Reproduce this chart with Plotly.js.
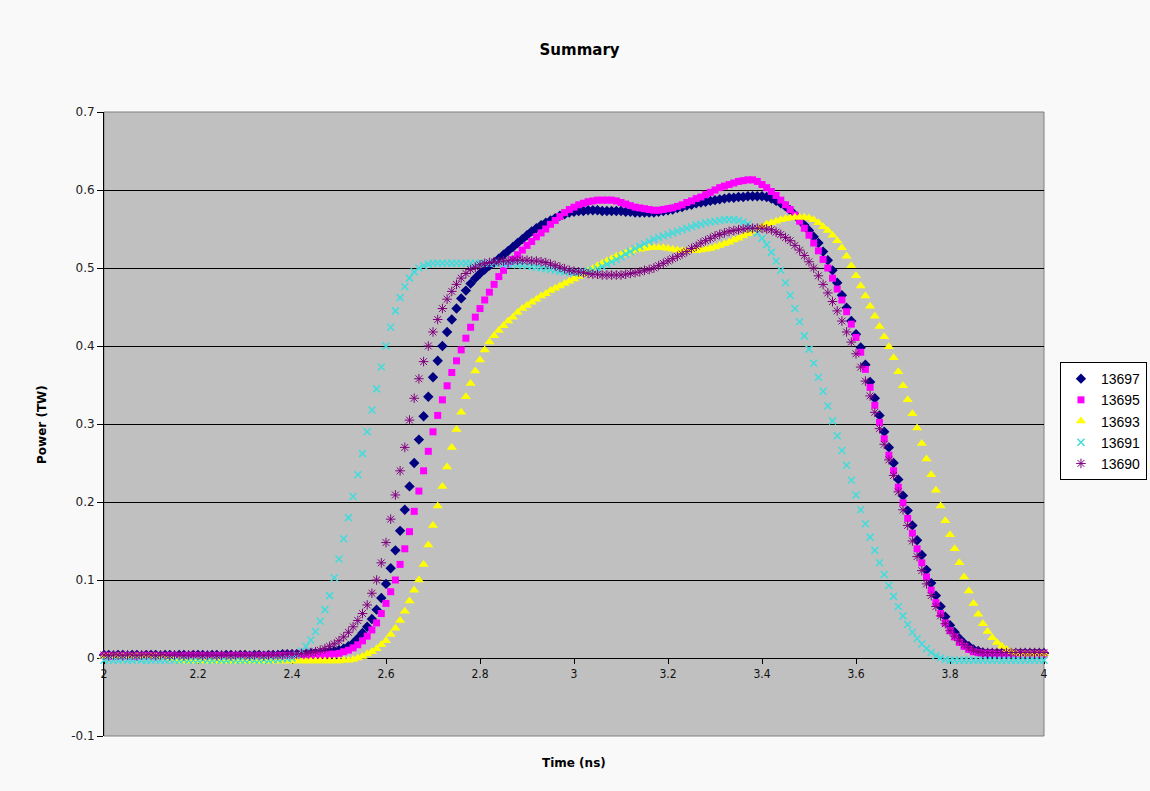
<!DOCTYPE html>
<html>
<head>
<meta charset="utf-8">
<script src="https://cdn.plot.ly/plotly-3.0.1.min.js"></script>
<style>
html,body{margin:0;padding:0;background:#F9F9F9;}
#chart{width:1150px;height:791px;}
</style>
</head>
<body>
<div id="chart"></div>
<script>
// Time (ns), sampled every 0.01 ns
var times = [
2.00,2.01,2.02,2.03,2.04,2.05,2.06,2.07,2.08,2.09,
2.10,2.11,2.12,2.13,2.14,2.15,2.16,2.17,2.18,2.19,
2.20,2.21,2.22,2.23,2.24,2.25,2.26,2.27,2.28,2.29,
2.30,2.31,2.32,2.33,2.34,2.35,2.36,2.37,2.38,2.39,
2.40,2.41,2.42,2.43,2.44,2.45,2.46,2.47,2.48,2.49,
2.50,2.51,2.52,2.53,2.54,2.55,2.56,2.57,2.58,2.59,
2.60,2.61,2.62,2.63,2.64,2.65,2.66,2.67,2.68,2.69,
2.70,2.71,2.72,2.73,2.74,2.75,2.76,2.77,2.78,2.79,
2.80,2.81,2.82,2.83,2.84,2.85,2.86,2.87,2.88,2.89,
2.90,2.91,2.92,2.93,2.94,2.95,2.96,2.97,2.98,2.99,
3.00,3.01,3.02,3.03,3.04,3.05,3.06,3.07,3.08,3.09,
3.10,3.11,3.12,3.13,3.14,3.15,3.16,3.17,3.18,3.19,
3.20,3.21,3.22,3.23,3.24,3.25,3.26,3.27,3.28,3.29,
3.30,3.31,3.32,3.33,3.34,3.35,3.36,3.37,3.38,3.39,
3.40,3.41,3.42,3.43,3.44,3.45,3.46,3.47,3.48,3.49,
3.50,3.51,3.52,3.53,3.54,3.55,3.56,3.57,3.58,3.59,
3.60,3.61,3.62,3.63,3.64,3.65,3.66,3.67,3.68,3.69,
3.70,3.71,3.72,3.73,3.74,3.75,3.76,3.77,3.78,3.79,
3.80,3.81,3.82,3.83,3.84,3.85,3.86,3.87,3.88,3.89,
3.90,3.91,3.92,3.93,3.94,3.95,3.96,3.97,3.98,3.99,
4.00];

var seriesNames = ["13697","13695","13693","13691","13690"];

var power13697 = [
0.004,0.004,0.003,0.004,0.004,0.003,0.004,0.004,0.003,0.004,
0.004,0.004,0.003,0.004,0.004,0.003,0.004,0.004,0.003,0.004,
0.004,0.004,0.003,0.004,0.004,0.003,0.004,0.004,0.003,0.004,
0.004,0.003,0.004,0.004,0.003,0.004,0.004,0.004,0.005,0.005,
0.005,0.005,0.005,0.005,0.006,0.006,0.006,0.007,0.008,0.009,
0.010,0.012,0.015,0.019,0.025,0.032,0.040,0.050,0.062,0.077,
0.095,0.115,0.138,0.163,0.190,0.220,0.250,0.280,0.310,0.335,
0.360,0.381,0.400,0.418,0.434,0.448,0.461,0.471,0.480,0.487,
0.493,0.498,0.503,0.507,0.512,0.517,0.522,0.527,0.532,0.537,
0.542,0.547,0.551,0.555,0.558,0.561,0.564,0.567,0.569,0.571,
0.572,0.573,0.573,0.574,0.574,0.574,0.573,0.573,0.573,0.573,
0.573,0.572,0.572,0.571,0.571,0.571,0.571,0.571,0.572,0.573,
0.574,0.575,0.577,0.578,0.580,0.581,0.583,0.584,0.585,0.586,
0.587,0.588,0.589,0.590,0.590,0.591,0.591,0.592,0.592,0.592,
0.592,0.591,0.589,0.586,0.583,0.579,0.574,0.568,0.562,0.555,
0.548,0.540,0.532,0.521,0.510,0.497,0.481,0.465,0.449,0.432,
0.415,0.398,0.376,0.354,0.333,0.311,0.290,0.270,0.250,0.229,
0.208,0.189,0.170,0.151,0.132,0.113,0.096,0.080,0.066,0.053,
0.042,0.033,0.025,0.019,0.015,0.011,0.009,0.007,0.006,0.006,
0.006,0.006,0.006,0.006,0.006,0.006,0.006,0.006,0.006,0.006,
0.006];

var power13695 = [
0.003,0.003,0.002,0.003,0.003,0.003,0.002,0.003,0.003,0.003,
0.003,0.003,0.002,0.003,0.003,0.003,0.002,0.003,0.003,0.003,
0.003,0.003,0.002,0.003,0.003,0.003,0.002,0.003,0.003,0.003,
0.003,0.003,0.002,0.003,0.003,0.003,0.002,0.003,0.003,0.003,
0.003,0.003,0.003,0.003,0.004,0.004,0.004,0.004,0.005,0.005,
0.006,0.008,0.010,0.013,0.017,0.022,0.028,0.036,0.045,0.057,
0.070,0.085,0.100,0.120,0.140,0.162,0.188,0.214,0.240,0.265,
0.290,0.311,0.331,0.349,0.366,0.381,0.395,0.410,0.424,0.437,
0.448,0.459,0.469,0.479,0.489,0.497,0.505,0.511,0.517,0.523,
0.529,0.534,0.540,0.545,0.550,0.556,0.561,0.566,0.571,0.575,
0.578,0.581,0.583,0.585,0.586,0.587,0.587,0.587,0.587,0.586,
0.584,0.582,0.580,0.578,0.577,0.576,0.575,0.574,0.574,0.575,
0.576,0.577,0.579,0.581,0.584,0.586,0.589,0.591,0.594,0.597,
0.600,0.603,0.605,0.607,0.609,0.611,0.612,0.613,0.613,0.611,
0.607,0.603,0.598,0.593,0.587,0.581,0.575,0.568,0.560,0.551,
0.542,0.532,0.522,0.511,0.500,0.487,0.473,0.459,0.444,0.428,
0.411,0.392,0.370,0.347,0.324,0.302,0.281,0.260,0.240,0.219,
0.199,0.179,0.160,0.140,0.122,0.104,0.087,0.071,0.057,0.045,
0.035,0.027,0.020,0.015,0.011,0.008,0.007,0.006,0.006,0.006,
0.005,0.005,0.005,0.005,0.005,0.005,0.005,0.005,0.005,0.005,
0.005];

var power13693 = [
0.002,0.002,0.002,0.002,0.002,0.002,0.002,0.002,0.002,0.002,
0.002,0.002,0.001,0.001,0.000,-0.002,-0.003,-0.004,-0.004,-0.004,
-0.004,-0.004,-0.004,-0.004,-0.004,-0.004,-0.004,-0.004,-0.004,-0.004,
-0.004,-0.004,-0.004,-0.004,-0.004,-0.004,-0.004,-0.004,-0.004,-0.004,
-0.004,-0.004,-0.004,-0.004,-0.004,-0.004,-0.004,-0.004,-0.004,-0.004,
-0.004,-0.003,-0.003,-0.002,0.000,0.002,0.005,0.008,0.012,0.017,
0.022,0.030,0.038,0.048,0.060,0.073,0.087,0.100,0.120,0.145,
0.170,0.195,0.220,0.245,0.270,0.293,0.315,0.335,0.352,0.368,
0.382,0.395,0.405,0.413,0.420,0.426,0.432,0.437,0.443,0.448,
0.452,0.456,0.460,0.464,0.467,0.471,0.474,0.477,0.480,0.483,
0.486,0.489,0.492,0.496,0.499,0.503,0.506,0.509,0.512,0.515,
0.517,0.519,0.521,0.523,0.524,0.525,0.526,0.526,0.526,0.526,
0.525,0.524,0.523,0.522,0.522,0.522,0.522,0.523,0.524,0.525,
0.527,0.529,0.531,0.533,0.536,0.538,0.541,0.544,0.547,0.550,
0.553,0.556,0.558,0.560,0.562,0.563,0.564,0.565,0.565,0.565,
0.564,0.562,0.558,0.553,0.548,0.542,0.535,0.526,0.515,0.503,
0.490,0.477,0.464,0.451,0.438,0.425,0.412,0.399,0.385,0.367,
0.349,0.331,0.313,0.295,0.275,0.255,0.235,0.215,0.195,0.176,
0.158,0.140,0.122,0.104,0.086,0.070,0.056,0.044,0.034,0.026,
0.020,0.015,0.011,0.008,0.006,0.005,0.005,0.005,0.005,0.005,
0.005];

var power13691 = [
-0.003,-0.002,-0.003,-0.003,-0.002,-0.003,-0.003,-0.002,-0.003,-0.003,
-0.003,-0.002,-0.003,-0.003,-0.002,-0.003,-0.003,-0.002,-0.003,-0.003,
-0.003,-0.002,-0.003,-0.003,-0.002,-0.003,-0.003,-0.002,-0.003,-0.003,
-0.003,-0.002,-0.003,-0.003,-0.002,-0.003,-0.002,-0.002,-0.001,-0.001,
0.000,0.004,0.009,0.015,0.023,0.034,0.047,0.062,0.080,0.103,
0.127,0.153,0.180,0.207,0.235,0.262,0.290,0.318,0.345,0.373,
0.400,0.424,0.445,0.462,0.476,0.487,0.495,0.500,0.503,0.505,
0.506,0.506,0.506,0.506,0.506,0.506,0.506,0.506,0.506,0.506,
0.506,0.506,0.506,0.506,0.506,0.505,0.505,0.505,0.504,0.504,
0.503,0.502,0.501,0.500,0.499,0.498,0.497,0.496,0.495,0.495,
0.494,0.494,0.495,0.496,0.497,0.499,0.502,0.505,0.508,0.511,
0.514,0.518,0.521,0.525,0.528,0.531,0.534,0.537,0.539,0.541,
0.543,0.545,0.547,0.549,0.551,0.553,0.555,0.556,0.558,0.559,
0.560,0.561,0.562,0.562,0.562,0.561,0.559,0.556,0.551,0.545,
0.538,0.530,0.520,0.509,0.497,0.481,0.465,0.448,0.431,0.413,
0.396,0.378,0.360,0.342,0.323,0.304,0.285,0.266,0.247,0.228,
0.209,0.190,0.172,0.155,0.138,0.122,0.107,0.093,0.079,0.066,
0.054,0.043,0.033,0.025,0.018,0.012,0.007,0.003,0.000,-0.002,
-0.003,-0.003,-0.003,-0.003,-0.003,-0.003,-0.003,-0.003,-0.003,-0.003,
-0.003,-0.003,-0.003,-0.003,-0.003,-0.003,-0.003,-0.003,-0.003,-0.003,
-0.003];

var power13690 = [
0.004,0.003,0.004,0.004,0.003,0.004,0.004,0.003,0.004,0.004,
0.004,0.003,0.004,0.004,0.003,0.004,0.004,0.003,0.004,0.004,
0.004,0.003,0.004,0.004,0.003,0.004,0.004,0.003,0.004,0.004,
0.004,0.003,0.004,0.004,0.003,0.004,0.004,0.004,0.004,0.005,
0.005,0.005,0.006,0.006,0.007,0.008,0.010,0.012,0.015,0.018,
0.022,0.027,0.033,0.040,0.048,0.057,0.068,0.083,0.100,0.122,
0.148,0.178,0.209,0.240,0.270,0.305,0.333,0.358,0.380,0.400,
0.418,0.434,0.448,0.460,0.470,0.479,0.487,0.493,0.498,0.501,
0.504,0.506,0.507,0.508,0.508,0.509,0.509,0.510,0.510,0.510,
0.510,0.509,0.509,0.508,0.507,0.505,0.503,0.501,0.499,0.497,
0.496,0.495,0.494,0.493,0.492,0.492,0.491,0.491,0.491,0.491,
0.491,0.492,0.493,0.494,0.495,0.497,0.498,0.500,0.503,0.506,
0.509,0.512,0.515,0.518,0.521,0.525,0.528,0.532,0.535,0.538,
0.541,0.543,0.545,0.547,0.548,0.549,0.550,0.551,0.551,0.551,
0.551,0.550,0.549,0.546,0.543,0.539,0.535,0.529,0.523,0.516,
0.508,0.500,0.490,0.479,0.468,0.457,0.445,0.432,0.418,0.405,
0.390,0.373,0.355,0.336,0.315,0.294,0.274,0.254,0.234,0.213,
0.190,0.170,0.150,0.130,0.112,0.095,0.080,0.066,0.054,0.044,
0.035,0.028,0.022,0.017,0.013,0.010,0.008,0.007,0.007,0.007,
0.007,0.007,0.007,0.007,0.007,0.007,0.007,0.007,0.007,0.007,
0.007];

var xTickVals = [2, 2.2, 2.4, 2.6, 2.8, 3, 3.2, 3.4, 3.6, 3.8, 4];
var xTickText = ["2","2.2","2.4","2.6","2.8","3","3.2","3.4","3.6","3.8","4"];
var yTickVals = [-0.1, 0, 0.1, 0.2, 0.3, 0.4, 0.5, 0.6, 0.7];
var yTickText = ["-0.1","0","0.1","0.2","0.3","0.4","0.5","0.6","0.7"];

var seriesValues = [power13697, power13695, power13693, power13691, power13690];
var markerStyles = [
  {symbol:"diamond", size:8, color:"#000080", line:{width:0}},
  {symbol:"square", size:7, color:"#FF00FF", line:{width:0}},
  {symbol:"triangle-up", size:9, color:"#FFFF00", line:{width:0}},
  {symbol:"x-thin-open", size:7, color:"#40DCDC", line:{width:1.5, color:"#40DCDC"}},
  {symbol:"asterisk-open", size:8, color:"#800080", line:{width:1, color:"#800080"}}
];

var traces = seriesNames.map(function(name, i){
  return {
    type:"scatter", mode:"markers", name:name,
    x: times, y: seriesValues[i],
    marker: markerStyles[i],
    cliponaxis:false
  };
});

var baseFont = "DejaVu Sans, Verdana, sans-serif";

var layout = {
  width:1150, height:791,
  margin:{l:104, r:106, t:112, b:55, pad:0, autoexpand:false},
  paper_bgcolor:"#F9F9F9",
  plot_bgcolor:"#C0C0C0",
  showlegend:true,
  title:{text:"<b>Summary</b>", font:{family:baseFont, size:15, color:"#000"},
         x:0.504, xref:"container", xanchor:"center", y:0.937, yref:"container", yanchor:"middle"},
  xaxis:{
    range:[2,4], tickmode:"array", tickvals:xTickVals, ticktext:xTickText,
    anchor:"free", position:0.125,
    showline:true, linecolor:"#000", linewidth:1,
    ticks:"outside", ticklen:5, tickcolor:"#000", tickwidth:1,
    showgrid:false, zeroline:false, layer:"below traces",
    tickfont:{family:"DejaVu Sans Condensed, DejaVu Sans, sans-serif", size:12, color:"#111"}
  },
  yaxis:{
    range:[-0.1,0.7], tickmode:"array", tickvals:yTickVals, ticktext:yTickText,
    showline:true, linecolor:"#000", linewidth:1,
    ticks:"outside", ticklen:6, tickcolor:"#000", tickwidth:1,
    showgrid:true, gridcolor:"#000", gridwidth:1, zeroline:false, layer:"below traces",
    tickfont:{family:baseFont, size:12, color:"#222"}
  },
  legend:{
    xref:"container", yref:"container",
    x:0.9217, y:0.5423, xanchor:"left", yanchor:"top",
    bgcolor:"#FFFFFF", bordercolor:"#000", borderwidth:1,
    font:{family:"Liberation Sans, Arial, sans-serif", size:14, color:"#000"},
    tracegroupgap:0, itemwidth:30
  },
  shapes:[
    {type:"rect", xref:"paper", yref:"paper", x0:0, x1:1, y0:0, y1:1,
     line:{color:"#808080", width:1}, fillcolor:"rgba(0,0,0,0)", layer:"between"}
  ],
  annotations:[
    {text:"<b>Time (ns)</b>", xref:"paper", yref:"paper", x:0.5, y:-0.0433,
     xanchor:"center", yanchor:"middle", showarrow:false,
     font:{family:baseFont, size:12, color:"#000"}},
    {text:"<b>Power (TW)</b>", xref:"paper", yref:"paper", x:-0.066, y:0.5,
     xanchor:"center", yanchor:"middle", showarrow:false, textangle:-90,
     font:{family:baseFont, size:12, color:"#000"}}
  ]
};

Plotly.newPlot("chart", traces, layout, {displayModeBar:false, staticPlot:true});
</script>
</body>
</html>
